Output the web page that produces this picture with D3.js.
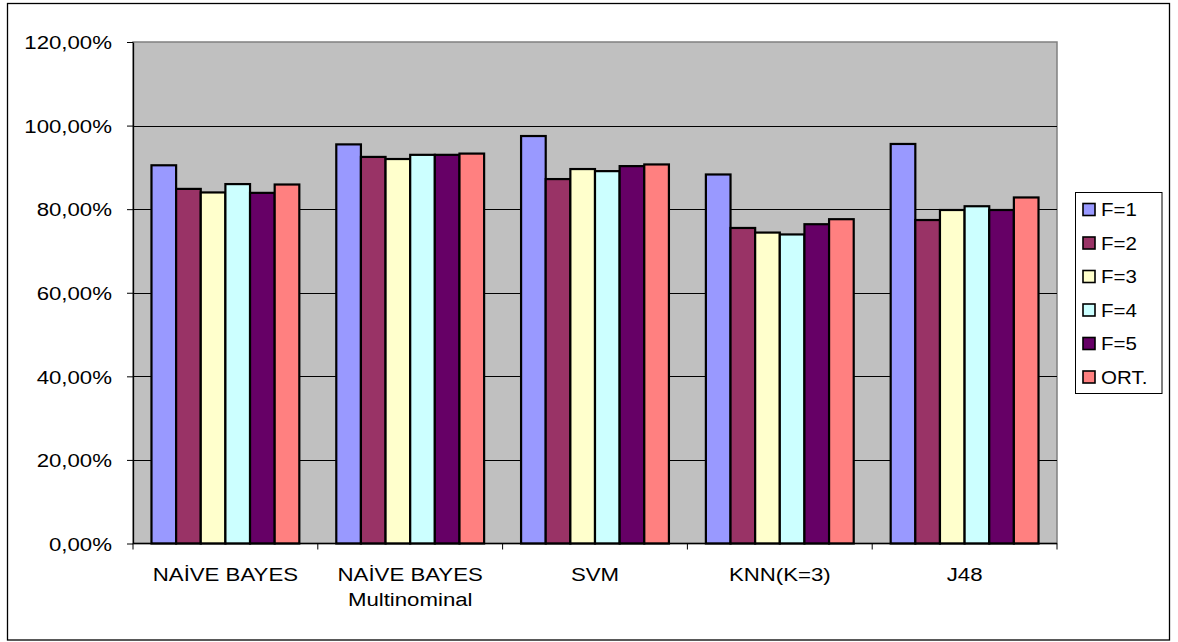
<!DOCTYPE html>
<html>
<head>
<meta charset="utf-8">
<script src="https://cdn.jsdelivr.net/npm/d3@7"></script>
<style>
  html, body { margin: 0; padding: 0; background: #fff; }
  svg { display: block; }
  text { font-family: "Liberation Sans", Arial, sans-serif; fill: #000; }
</style>
</head>
<body>
<svg id="chart" width="1178" height="642"></svg>
<script>
// Classifier accuracy (%) per fold setting
const categories = ["NAİVE BAYES", "NAİVE BAYES\nMultinominal", "SVM", "KNN(K=3)", "J48"];
const seriesNames = ["F=1", "F=2", "F=3", "F=4", "F=5", "ORT."];
const seriesColors = ["#9999FF", "#993366", "#FFFFCC", "#CCFFFF", "#660066", "#FF8080"];
const f1  = [90.5, 95.5, 97.5, 88.3, 95.6];
const f2  = [84.85, 92.5, 87.2, 75.5, 77.4];
const f3  = [84.0, 92.0, 89.6, 74.4, 79.8];
const f4  = [86.0, 93.0, 89.1, 73.95, 80.7];
const f5  = [83.9, 93.0, 90.3, 76.4, 79.8];
const ort = [85.9, 93.3, 90.7, 77.6, 82.8];
const yTicks = [0, 20, 40, 60, 80, 100, 120];
const yTickLabels = ["0,00%", "20,00%", "40,00%", "60,00%", "80,00%", "100,00%", "120,00%"];

const seriesValues = [f1, f2, f3, f4, f5, ort];
const fontSize = 19;
const stretch = 1.17;

const svg = d3.select("#chart");

// outer chart frame
svg.append("rect")
  .attr("x", 7.5).attr("y", 3.5)
  .attr("width", 1162).attr("height", 636.5)
  .attr("fill", "#fff").attr("stroke", "#000").attr("stroke-width", 1.3);

const plot = { left: 133, top: 42, width: 924, height: 501.5 };

const x = d3.scaleBand()
  .domain(categories)
  .range([plot.left, plot.left + plot.width])
  .paddingInner(0).paddingOuter(0);

// bars occupy 6 of 7.5 bar-widths within each category
const xInner = d3.scaleBand()
  .domain(seriesNames)
  .range([0, x.bandwidth()])
  .paddingOuter(0.75)
  .paddingInner(0);

const y = d3.scaleLinear()
  .domain([0, 120])
  .range([plot.top + plot.height, plot.top]);

// plot area background
svg.append("rect")
  .attr("x", plot.left).attr("y", plot.top)
  .attr("width", plot.width).attr("height", plot.height)
  .attr("fill", "#C0C0C0")
  .attr("stroke", "#808080").attr("stroke-width", 1.5);

// horizontal gridlines
svg.append("g")
  .selectAll("line")
  .data(yTicks.filter(d => d > 0 && d < 120))
  .join("line")
  .attr("x1", plot.left).attr("x2", plot.left + plot.width)
  .attr("y1", d => Math.round(y(d)) + 0.5).attr("y2", d => Math.round(y(d)) + 0.5)
  .attr("stroke", "#000").attr("stroke-width", 1);

// bars
const groups = svg.append("g")
  .selectAll("g")
  .data(categories)
  .join("g")
  .attr("transform", d => `translate(${x(d)},0)`);

groups.selectAll("rect")
  .data((c, ci) => seriesNames.map((s, si) => ({ s, si, v: seriesValues[si][ci] })))
  .join("rect")
  .attr("x", d => xInner(d.s))
  .attr("width", xInner.bandwidth())
  .attr("y", d => y(d.v))
  .attr("height", d => y(0) - y(d.v))
  .attr("fill", d => seriesColors[d.si])
  .attr("stroke", "#000")
  .attr("stroke-width", 2.2);

// y axis
const yAxis = d3.axisLeft(y)
  .tickValues(yTicks)
  .tickFormat((d, i) => yTickLabels[i])
  .tickSize(6)
  .tickPadding(12)
  .tickSizeOuter(0);

const yg = svg.append("g")
  .attr("transform", `translate(${plot.left},0)`)
  .call(yAxis);
yg.select(".domain").attr("stroke", "#000").attr("stroke-width", 1.3);
yg.selectAll(".tick line").attr("stroke", "#000");
yg.selectAll(".tick text")
  .attr("font-size", fontSize)
  .attr("font-family", "'Liberation Sans', Arial, sans-serif")
  .attr("fill", "#000")
  .attr("dy", "0.355em")
  .attr("transform", `scale(${stretch},1)`);

// x axis with ticks at category boundaries
const boundaries = categories.map(c => x(c)).concat([plot.left + plot.width]);
svg.append("line")
  .attr("x1", plot.left).attr("x2", plot.left + plot.width)
  .attr("y1", y(0)).attr("y2", y(0))
  .attr("stroke", "#000").attr("stroke-width", 1.3);
svg.append("g")
  .selectAll("line")
  .data(boundaries)
  .join("line")
  .attr("x1", d => d).attr("x2", d => d)
  .attr("y1", y(0)).attr("y2", y(0) + 6)
  .attr("stroke", "#000");

// category labels
const xl = svg.append("g")
  .selectAll("g")
  .data(categories)
  .join("g")
  .attr("transform", d => `translate(${x(d) + x.bandwidth() / 2},${y(0) + 37}) scale(${stretch},1)`);
xl.selectAll("text")
  .data(d => d.split("\n"))
  .join("text")
  .attr("text-anchor", "middle")
  .attr("y", (d, i) => i * 25.5)
  .attr("font-size", fontSize)
  .text(d => d);

// legend
const legend = { x: 1075.5, y: 192.5, w: 86.5, h: 201, step: 33.5, first: 209.5 };
svg.append("rect")
  .attr("x", legend.x).attr("y", legend.y)
  .attr("width", legend.w).attr("height", legend.h)
  .attr("fill", "#fff").attr("stroke", "#000").attr("stroke-width", 1);

const items = svg.append("g")
  .selectAll("g")
  .data(seriesNames)
  .join("g")
  .attr("transform", (d, i) => `translate(0,${legend.first + i * legend.step})`);
items.append("rect")
  .attr("x", 1083).attr("y", -6)
  .attr("width", 12).attr("height", 12)
  .attr("fill", (d, i) => seriesColors[i])
  .attr("stroke", "#000").attr("stroke-width", 1.6);
items.append("text")
  .attr("transform", `translate(1101,6.8) scale(1.08,1)`)
  .attr("font-size", fontSize)
  .text(d => d);
</script>
</body>
</html>
